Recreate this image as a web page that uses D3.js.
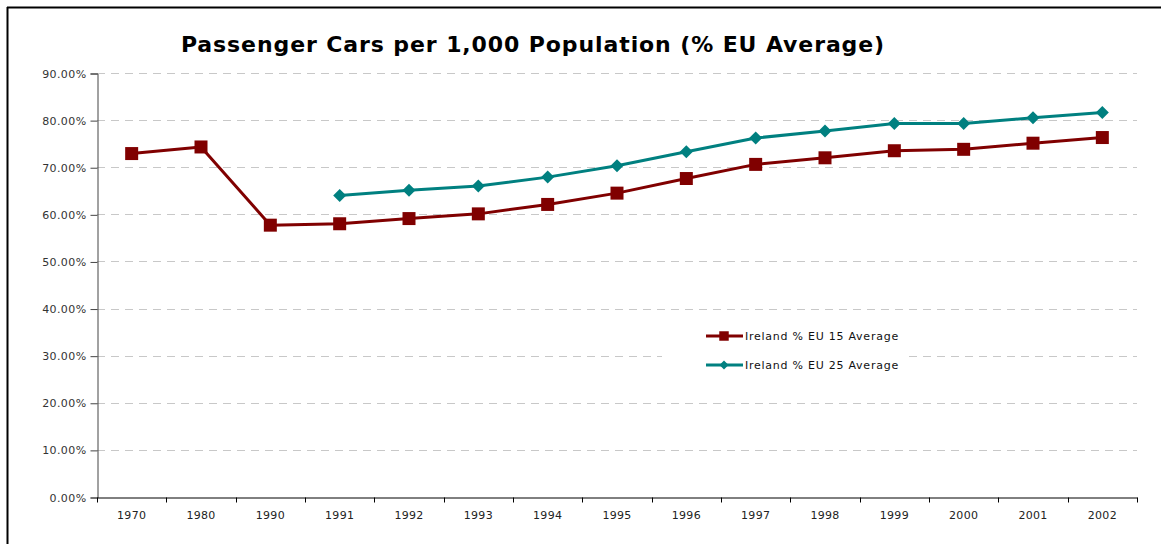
<!DOCTYPE html>
<html>
<head>
<meta charset="utf-8">
<script src="https://cdn.jsdelivr.net/npm/d3@7"></script>
<style>
  html, body { margin: 0; padding: 0; background: #fff; }
  svg { display: block; }
  text { font-family: "DejaVu Sans", Verdana, sans-serif; }
</style>
</head>
<body>
<svg id="chart" width="1161" height="544"></svg>
<script>
const categories = ["1970","1980","1990","1991","1992","1993","1994","1995","1996","1997","1998","1999","2000","2001","2002"];
const eu15 = [72.9, 74.3, 57.7, 58.0, 59.1, 60.1, 62.1, 64.5, 67.6, 70.6, 72.0, 73.5, 73.8, 75.1, 76.3];
const eu25 = [null, null, null, 64.0, 65.1, 66.0, 67.9, 70.3, 73.3, 76.2, 77.7, 79.3, 79.3, 80.5, 81.6];
const yTicks = [0, 10, 20, 30, 40, 50, 60, 70, 80, 90];
const seriesNames = ["Ireland % EU 15 Average", "Ireland % EU 25 Average"];
const titleText = "Passenger Cars per 1,000 Population (% EU Average)";

const svg = d3.select("#chart");
const W = 1161, H = 544;
const margin = { left: 97, right: 1161 - 1137, top: 73, bottom: 544 - 497 };

// outer frame (top and left visible)
svg.append("line").attr("x1", 7).attr("x2", W + 5).attr("y1", 7.5).attr("y2", 7.5)
  .attr("stroke", "#000").attr("stroke-width", 2);
svg.append("line").attr("x1", 7.5).attr("x2", 7.5).attr("y1", 7).attr("y2", H + 5)
  .attr("stroke", "#000").attr("stroke-width", 2);

const x = d3.scaleBand().domain(categories).range([margin.left, W - margin.right]).paddingInner(0).paddingOuter(0);
const y = d3.scaleLinear().domain([0, 90]).range([H - margin.bottom, margin.top]);

// gridlines
svg.append("g").selectAll("line").data(yTicks.filter(d => d > 0)).join("line")
  .attr("x1", margin.left).attr("x2", W - margin.right)
  .attr("y1", d => Math.round(y(d)) + 0.5).attr("y2", d => Math.round(y(d)) + 0.5)
  .attr("stroke", "#c8c8c8").attr("stroke-width", 1).attr("stroke-dasharray", "8,6");

// y axis
const yAxis = d3.axisLeft(y).tickValues(yTicks).tickSize(7).tickPadding(4)
  .tickFormat(d => d3.format(".2f")(d) + "%");
const gy = svg.append("g").attr("transform", `translate(${margin.left + 0.5},0.5)`).call(yAxis);
gy.select(".domain").attr("stroke", "#444");
gy.selectAll(".tick line").attr("stroke", "#444");
gy.selectAll("text").attr("font-size", 11).attr("fill", "#333").attr("letter-spacing", 0.4)
  .attr("font-family", "DejaVu Sans, Verdana, sans-serif");

// x axis
const xAxis = d3.axisBottom(x).tickSize(0).tickPadding(14);
const gx = svg.append("g").attr("transform", `translate(0,${y(0) + 0.5})`).call(xAxis);
gx.select(".domain").attr("stroke", "#000");
gx.selectAll("text").attr("font-size", 11).attr("fill", "#222").attr("letter-spacing", 0.3)
  .attr("font-family", "DejaVu Sans, Verdana, sans-serif");
// tick marks between categories
const boundaries = categories.map(c => x(c)).concat([x(categories[categories.length - 1]) + x.bandwidth()]);
gx.append("g").selectAll("line").data(boundaries).join("line")
  .attr("x1", d => Math.round(d) + 0.5).attr("x2", d => Math.round(d) + 0.5)
  .attr("y1", 0).attr("y2", 5).attr("stroke", "#000");

const cx = c => x(c) + x.bandwidth() / 2;

// legend background (blocks gridline behind legend)
svg.append("rect").attr("x", 662).attr("y", 322).attr("width", 244).attr("height", 58).attr("fill", "#fff");

// lines
const line = d3.line().defined(d => d.v != null).x(d => cx(d.c)).y(d => y(d.v));
const d15 = categories.map((c, i) => ({ c, v: eu15[i] }));
const d25 = categories.map((c, i) => ({ c, v: eu25[i] }));

svg.append("path").datum(d15).attr("d", line).attr("fill", "none")
  .attr("stroke", "#800000").attr("stroke-width", 3).attr("stroke-linejoin", "round");
svg.append("path").datum(d25.filter(d => d.v != null)).attr("d", line).attr("fill", "none")
  .attr("stroke", "#008080").attr("stroke-width", 3).attr("stroke-linejoin", "round");

// markers
const sq = d3.symbol().type(d3.symbolSquare).size(169);
const dm = d => `M0,${-d}L${d},0L0,${d}L${-d},0Z`;
svg.append("g").selectAll("path").data(d15).join("path")
  .attr("transform", d => `translate(${cx(d.c)},${y(d.v)})`)
  .attr("d", sq()).attr("fill", "#800000");
svg.append("g").selectAll("path").data(d25.filter(d => d.v != null)).join("path")
  .attr("transform", d => `translate(${cx(d.c)},${y(d.v)})`)
  .attr("d", dm(6.5)).attr("fill", "#008080");

// title
svg.append("text").attr("x", 533).attr("y", 52).attr("text-anchor", "middle")
  .attr("font-size", 22).attr("font-weight", "bold").attr("fill", "#000").attr("letter-spacing", 0.9)
  .text(titleText);

// legend
const leg = svg.append("g");
const legRows = [
  { name: seriesNames[0], color: "#800000", shape: "sq", y: 336 },
  { name: seriesNames[1], color: "#008080", shape: "dm", y: 365 }
];
legRows.forEach(r => {
  leg.append("line").attr("x1", 706).attr("x2", 743).attr("y1", r.y).attr("y2", r.y)
    .attr("stroke", r.color).attr("stroke-width", 3);
  if (r.shape === "sq") {
    leg.append("path").attr("transform", `translate(724,${r.y})`)
      .attr("d", d3.symbol().type(d3.symbolSquare).size(90)()).attr("fill", r.color);
  } else {
    leg.append("path").attr("transform", `translate(724,${r.y})`)
      .attr("d", dm(4.5)).attr("fill", r.color);
  }
  leg.append("text").attr("x", 745).attr("y", r.y + 4).attr("font-size", 11).attr("fill", "#111")
    .attr("letter-spacing", 0.75)
    .text(r.name);
});
</script>
</body>
</html>
